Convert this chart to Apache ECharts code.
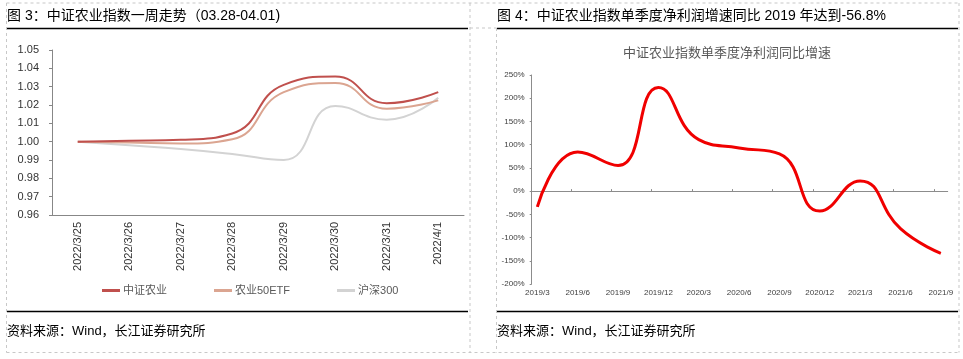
<!DOCTYPE html>
<html><head><meta charset="utf-8">
<script src="https://cdn.jsdelivr.net/npm/echarts@6/dist/echarts.min.js"></script>
<style>html,body{margin:0;padding:0;background:#fff}#c{width:963px;height:359px}</style>
</head><body><div id="c"></div>
<script>
// ---- Left chart data ----
const weekDates = ['2022/3/25','2022/3/26','2022/3/27','2022/3/28','2022/3/29','2022/3/30','2022/3/31','2022/4/1'];
const csAgri  = [1.000, 1.0005, 1.001, 1.0045, 1.031, 1.0355, 1.021, 1.027];
const agriETF = [1.000, 0.9995, 0.999, 1.0013, 1.027, 1.032, 1.018, 1.0225];
const hs300   = [1.000, 0.998, 0.996, 0.9933, 0.990, 1.0195, 1.012, 1.024];
const leftNames = ['中证农业','农业50ETF','沪深300'];
// ---- Right chart data ----
const quarters = ['2019/3','2019/6','2019/9','2019/12','2020/3','2020/6','2020/9','2020/12','2021/3','2021/6','2021/9'];
const profitGrowth = [-34, 84, 55, 223, 111, 93, 80, -43, 22, -81, -134];

const FONT = "'Liberation Sans', Arial, 'Noto Sans CJK SC', sans-serif";
const chart = echarts.init(document.getElementById('c'), null, {renderer:'canvas'});

const dash = {stroke:'#c8c8c8', lineWidth:1, lineDash:[3,3]};
function hline(x1,x2,y,style){return {type:'line',shape:{x1:x1,y1:y,x2:x2,y2:y},style:style,silent:true};}
function vline(x,y1,y2,style){return {type:'line',shape:{x1:x,y1:y1,x2:x,y2:y2},style:style,silent:true};}
const black = {stroke:'#000', lineWidth:1.5};
function txt(x,y,t,size,color,align){return {type:'text',x:x,y:y,style:{text:t,fontSize:size,fill:color,fontFamily:FONT,textAlign:align||'left',textVerticalAlign:'middle'},silent:true};}

const tickPos = [];
for (let i = 1; i < quarters.length; i++) tickPos.push(i - 0.17);
const labelPos = quarters.map((q,i)=>i);

chart.setOption({
  animation:false,
  textStyle:{fontFamily:FONT},
  graphic:[
    hline(6.5,959,3,dash), hline(6.5,959,352.5,dash),
    vline(6.5,3,352.5,dash), vline(470,3,352.5,dash),
    vline(496.5,28,352.5,dash), vline(959,3,352.5,dash),
    hline(470,496.5,28,dash),
    hline(7,468,28.5,black), hline(497,958,28.5,black),
    hline(7,468,311.5,black), hline(497,958,311.5,black),
    txt(7,16,'图 3：中证农业指数一周走势（03.28-04.01)',14,'#000'),
    txt(497,16,'图 4：中证农业指数单季度净利润增速同比 2019 年达到-56.8%',14,'#000'),
    txt(7,331,'资料来源：Wind，长江证券研究所',13,'#000'),
    txt(497,331,'资料来源：Wind，长江证券研究所',13,'#000'),
    txt(727,53,'中证农业指数单季度净利润同比增速',13,'#595959','center')
  ],
  legend:{
    data:leftNames, left:102, top:285, padding:0, icon:'rect', itemWidth:18, itemHeight:3, itemGap:47,
    textStyle:{fontSize:11,color:'#595959',fontFamily:FONT,padding:[0,0,0,-2]}
  },
  grid:[
    {left:52, right:499, top:50, bottom:144},
    {left:531.7, right:15.3, top:75, bottom:75}
  ],
  xAxis:[
    {gridIndex:0, type:'category', data:weekDates, boundaryGap:true,
     axisLine:{lineStyle:{color:'#878787'}},
     axisTick:{inside:true,length:3,lineStyle:{color:'#878787'}},
     axisLabel:{rotate:90, fontSize:11, color:'#333', margin:7, interval:0}},
    {gridIndex:1, type:'value', min:-0.14, max:10.17, position:'bottom',
     axisLine:{onZero:true, lineStyle:{color:'#8c8c8c'}},
     axisTick:{show:true, inside:true, length:2, customValues:tickPos, lineStyle:{color:'#8c8c8c'}},
     axisLabel:{show:false}, splitLine:{show:false}},
    {gridIndex:1, type:'value', min:-0.14, max:10.17, position:'bottom',
     axisLine:{show:false, onZero:false}, axisTick:{show:false},
     axisLabel:{show:true, customValues:labelPos, formatter:v=>quarters[Math.round(v)], fontSize:8, color:'#404040', margin:5},
     splitLine:{show:false}}
  ],
  yAxis:[
    {gridIndex:0, type:'value', min:0.96, max:1.05, interval:0.01,
     axisLine:{show:true, onZero:false, lineStyle:{color:'#878787'}},
     axisTick:{show:true, length:3, lineStyle:{color:'#878787'}},
     axisLabel:{fontSize:11, color:'#333', margin:13, formatter:v=>v.toFixed(2)},
     splitLine:{show:false}},
    {gridIndex:1, type:'value', min:-200, max:250, interval:50,
     axisLine:{show:true, onZero:false, lineStyle:{color:'#8c8c8c'}},
     axisTick:{show:true, length:2, lineStyle:{color:'#8c8c8c'}},
     axisLabel:{fontSize:8, color:'#404040', margin:7, formatter:v=>v+'%'},
     splitLine:{show:false}}
  ],
  series:[
    {name:leftNames[0], type:'line', xAxisIndex:0, yAxisIndex:0, data:csAgri, smooth:0.5, showSymbol:false,
     color:'#c0504d', lineStyle:{width:2,color:'#c0504d'}, z:4},
    {name:leftNames[1], type:'line', xAxisIndex:0, yAxisIndex:0, data:agriETF, smooth:0.5, showSymbol:false,
     color:'#dba591', lineStyle:{width:2,color:'#dba591'}, z:3},
    {name:leftNames[2], type:'line', xAxisIndex:0, yAxisIndex:0, data:hs300, smooth:0.5, showSymbol:false,
     color:'#d3d3d3', lineStyle:{width:2,color:'#d3d3d3'}, z:2},
    {name:'净利润同比增速', type:'line', xAxisIndex:1, yAxisIndex:1,
     data:profitGrowth.map((v,i)=>[i,v]), smooth:0.5, showSymbol:false,
     color:'#f00000', lineStyle:{width:3,color:'#f00000'}}
  ]
});
</script></body></html>
